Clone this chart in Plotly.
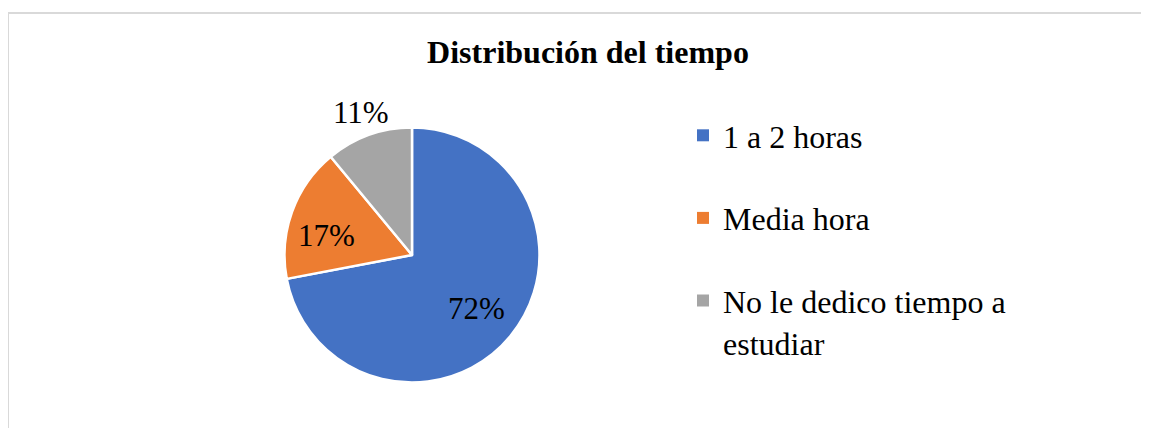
import math
import plotly.graph_objects as go

categories = ["1 a 2 horas", "Media hora", "No le dedico tiempo a<br>estudiar"]
values = [72, 17, 11]
colors = ["#4472C4", "#ED7D31", "#A5A5A5"]
title_text = "Distribución del tiempo"

W, H = 1149, 428
OFF = 8  # page body margin
FONT = "Liberation Serif, Times New Roman, serif"

def px(x):
    return (x - OFF) / W

def py(y):
    return 1 - (y - OFF) / H

fig = go.Figure()

cx, cy, r = 412, 255, 127.5
fig.add_trace(go.Pie(
    labels=categories,
    values=values,
    sort=False,
    direction="clockwise",
    rotation=0,
    marker=dict(colors=colors, line=dict(color="white", width=2.5)),
    textinfo="none",
    domain=dict(x=[px(cx - r), px(cx + r)], y=[py(cy + r), py(cy - r)]),
    showlegend=False,
    hoverinfo="label+percent",
))

# data labels placed near each slice's mid-angle (radius as fraction of pie radius, angle tweak in degrees)
label_radius = [0.66, 0.69, 1.19]
label_angle_shift = [0, -7, 0]
total = sum(values)
annotations = []
cum = 0
for v, k, da in zip(values, label_radius, label_angle_shift):
    mid = (cum + v / 2) / total * 2 * math.pi + math.radians(da)
    cum += v
    x = cx + k * r * math.sin(mid)
    y = cy - k * r * math.cos(mid)
    annotations.append(dict(
        x=px(x), y=py(y), xref="paper", yref="paper",
        text=f"{round(v / total * 100)}%", showarrow=False,
        xanchor="center", yanchor="middle",
        font=dict(family=FONT, size=31, color="black"),
    ))

for i, (name, col) in enumerate(zip(categories, colors)):
    fig.add_trace(go.Scatter(
        x=[None], y=[None], mode="markers", name=name,
        marker=dict(symbol="square", size=12, color=col),
        legendgroup=f"g{i}", showlegend=True, hoverinfo="skip",
    ))

fig.update_layout(
    width=W, height=H,
    margin=dict(l=0, r=0, t=0, b=0),
    paper_bgcolor="white", plot_bgcolor="white",
    xaxis=dict(visible=False), yaxis=dict(visible=False),
    title=dict(text="<b>" + title_text + "</b>", x=px(588), xanchor="center",
               y=py(52), yanchor="middle",
               font=dict(family=FONT, size=32, color="black")),
    legend=dict(x=px(683), xanchor="left", y=py(108), yanchor="top",
                font=dict(family=FONT, size=32, color="black"),
                valign="top", tracegroupgap=38, bgcolor="rgba(0,0,0,0)"),
    annotations=annotations,
    shapes=[dict(type="rect", xref="paper", yref="paper",
                 x0=px(8), x1=1.05, y0=-0.05, y1=py(13),
                 line=dict(color="#D9D9D9", width=2), layer="below")],
)

fig.write_html("out.html")
